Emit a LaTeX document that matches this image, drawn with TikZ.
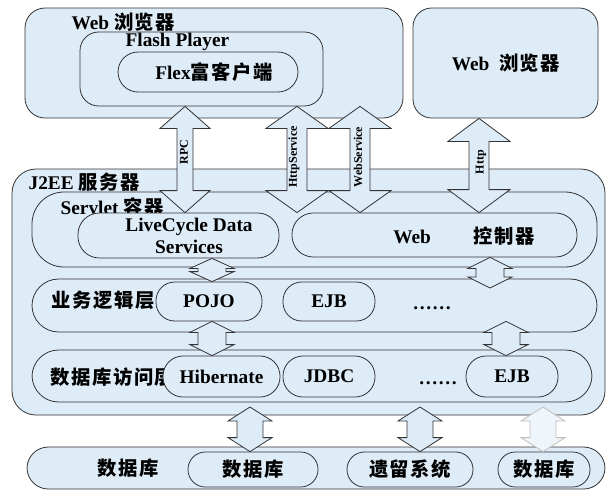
\documentclass[tikz,border=0pt]{standalone}
\usepackage{fontspec}
\setmainfont{Liberation Serif}
\newfontfamily\cjk{Noto Sans CJK SC}[LetterSpace=8]
\usetikzlibrary{calc}
\usetikzlibrary{fit}
\definecolor{lblue}{RGB}{222,236,248}
\tikzset{
 box/.style={draw=black!80, fill=lblue, line width=.6pt, inner sep=0, rounded corners=#1},
 box/.default=14pt,
 txt/.style={font=\fontsize{14.5}{17}\selectfont\bfseries, inner sep=1pt},
 tag/.style={font=\fontsize{9}{10}\selectfont\bfseries, rotate=90, inner sep=0},
 blk/.style={draw=black!80, fill=lblue, line width=.6pt, line join=miter},
}
% block double arrow: top point, bottom point, shaft half width, head half width, head length (px)
\newcommand\barrow[6][]{%
\draw[blk,#1] let \p1=(#2), \p2=(#3) in
 (\x1,\y1) -- (\x1+#5*.75pt,\y1-#6*.75pt) -- (\x1+#4*.75pt,\y1-#6*.75pt)
 -- (\x1+#4*.75pt,\y2+#6*.75pt) -- (\x1+#5*.75pt,\y2+#6*.75pt) -- (\x1,\y2)
 -- (\x1-#5*.75pt,\y2+#6*.75pt) -- (\x1-#4*.75pt,\y2+#6*.75pt)
 -- (\x1-#4*.75pt,\y1-#6*.75pt) -- (\x1-#5*.75pt,\y1-#6*.75pt) -- cycle;}

\begin{document}
\begin{tikzpicture}[x=.75pt, y=-.75pt]
\useasboundingbox (0,0) rectangle (609,490);

\node[box=15pt, fit={(25,8) (403,118)}] (web) {};
\node[txt, anchor=west] (webT) at (70,22) {Web {\cjk 浏览器}};
\node[box=14pt, fit={(80,32) (323,106)}] (flash) {};
\node[txt, anchor=west] (flashT) at (124,42) {Flash Player};
\node[box=15pt, fit={(118,52) (298,92)}] (flex) {};
\node[txt] (flexT) at (214,72) {Flex{\cjk 富客户端}};
\node[box=14pt, fit={(413,8) (598,118)}] (web2) {};
\node[txt] (web2T) at (506,63) {Web\hspace{.5em}{\cjk 浏览器}};

\node[box=18pt, fit={(12,169) (605,415)}] (j2ee) {};
\node[txt, anchor=west] (j2eeT) at (27,182) {J2EE {\cjk 服务器}};

\node[box=24pt, fit={(32,192) (597,267)}] (servlet) {};
\node[txt, anchor=west] (servletT) at (59,207) {Servlet {\cjk 容器}};
\node[box=16pt, fit={(78,213) (279,258)}] (lcds) {};
\node[txt, align=center] (lcdsT) at (189,236) {LiveCycle Data\\Services};
\node[box=16pt, fit={(292,213) (577,257)}] (ctrl) {};
\node[txt] (ctrlT) at (464,236) {Web\hspace{2.2em}{\cjk 控制器}};

\node[box=20pt, fit={(32,279) (597,332)}] (biz) {};
\node[txt, anchor=west] (bizT) at (50,300) {\cjk 业务逻辑层};
\node[box=14pt, fit={(156,282) (262,321)}] (pojo) {};
\node[txt] (pojoT) at (pojo) {POJO};
\node[box=14pt, fit={(283,282) (375,321)}] (ejb1) {};
\node[txt] (ejb1T) at (ejb1) {EJB};
\node[txt, anchor=base] (dots1) at (432,309) {……};

\node[box=20pt, fit={(32,350) (592,402)}] (dao) {};
\node[txt, anchor=west] (daoT) at (49,377) {\cjk 数据库访问层};
\node[box=15pt, fit={(163,356) (280,397)}] (hib) {};
\node[txt] (hibT) at (hib) {Hibernate};
\node[box=15pt, fit={(283,356) (375,397)}] (jdbc) {};
\node[txt] (jdbcT) at (jdbc) {JDBC};
\node[txt, anchor=base] (dots2) at (438,384) {……};
\node[box=15pt, fit={(466,356) (558,397)}] (ejb2) {};
\node[txt] (ejb2T) at (ejb2) {EJB};

\node[box=16pt, fit={(27,447) (605,489)}] (data) {};
\node[txt] (dataT) at (128,468) {\cjk 数据库};
\node[box=13pt, fit={(188,452) (318,487)}] (db1) {};
\node[txt] (db1T) at (db1) {\cjk 数据库};
\node[box=13pt, fit={(347,452) (473,487)}] (legacy) {};
\node[txt] (legacyT) at (legacy) {\cjk 遗留系统};
\node[box=13pt, fit={(498,452) (590,487)}] (db2) {};
\node[txt] (db2T) at (db2) {\cjk 数据库};

\coordinate (xrpc) at (185,0);
\coordinate (xhttps) at (297,0);
\coordinate (xws) at (360,0);
\coordinate (xhttp) at (479,0);
\barrow{flash.south -| xrpc}{lcds.north -| xrpc}{8}{25}{22}
\barrow{flash.south -| xhttps}{ctrl.north -| xhttps}{10}{31}{22}
\barrow{flash.south -| xws}{ctrl.north -| xws}{10}{31}{22}
\barrow{web2.south -| xhttp}{ctrl.north -| xhttp}{10}{31}{23}
\node[tag] (rpc) at (184,152) {RPC};
\node[tag] (https) at (294,157) {HttpService};
\node[tag] (ws) at (358,157) {WebService};
\node[tag] (http) at (481,162) {Http};

\coordinate (bizR) at (490,288);
\barrow{lcds.south -| 212,0}{pojo.north -| 212,0}{14}{22}{10}
\barrow{ctrl.south -| bizR}{bizR}{14}{22}{11}
\barrow{pojo.south -| 212,0}{hib.north -| 212,0}{14}{22}{11}
\barrow{ejb1.south -| 506,0}{ejb2.north -| 506,0}{14}{22}{11}

\coordinate (b1) at (250,407);
\coordinate (b2) at (420,407);
\coordinate (b3) at (543,407);
\barrow{b1}{db1.north -| b1}{13}{22}{14}
\barrow{b2}{legacy.north -| b2}{13}{22}{14}
\barrow[draw=black!25, fill=lblue!50]{b3}{db2.north -| b3}{13}{22}{14}
\end{tikzpicture}
\end{document}
